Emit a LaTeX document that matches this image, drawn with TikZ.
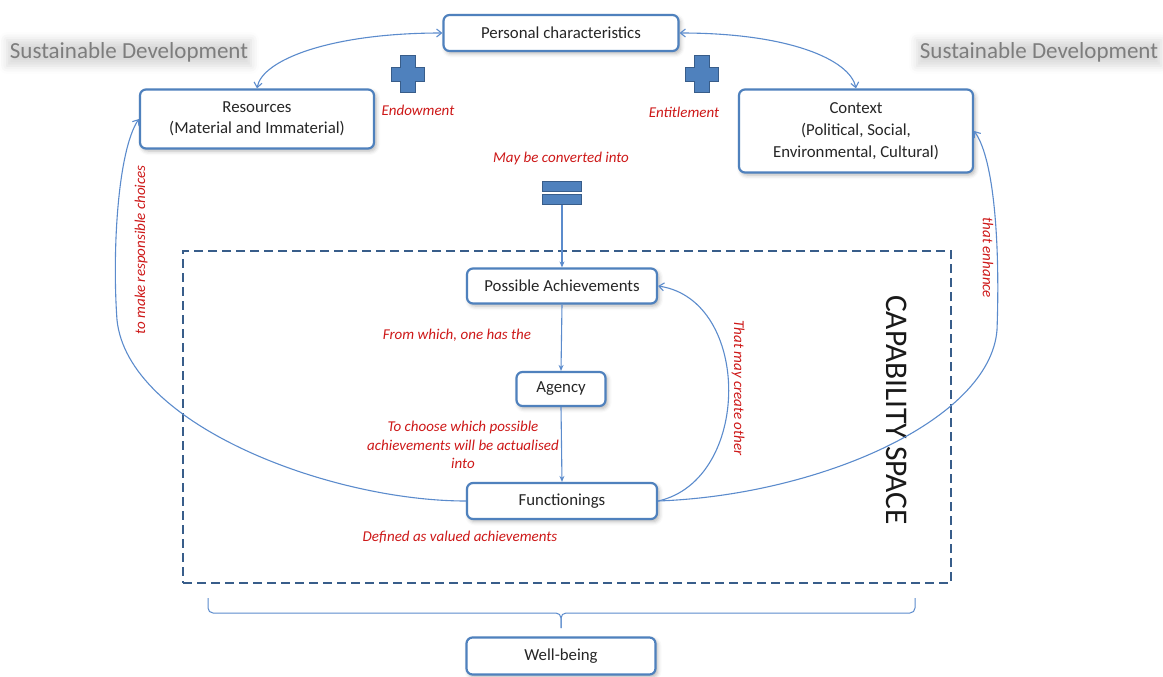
\documentclass[tikz,border=0pt]{standalone}
\usepackage{fontspec}
\setmainfont{Carlito}
\usetikzlibrary{arrows.meta,shadows.blur}
\definecolor{boxblue}{RGB}{79,129,189}
\definecolor{linkblue}{RGB}{91,139,204}
\definecolor{darkblue}{RGB}{56,93,138}
\definecolor{labred}{RGB}{205,24,24}
\definecolor{sdgray}{RGB}{125,125,125}
\tikzset{
  box/.style={draw=boxblue, line width=2.2pt, rounded corners=6pt, fill=white, inner sep=2pt,
    font=\fontsize{16.8}{21}\selectfont, align=center, text=black!85,
    blur shadow={shadow xshift=2pt, shadow yshift=-2.5pt, shadow blur radius=4pt, shadow opacity=30}},
  lab/.style={text=labred, font=\fontsize{15}{18.5}\selectfont\itshape, align=center, inner sep=0pt},
  sd/.style={text=sdgray, font=\fontsize{23}{26}\selectfont, inner sep=3pt,
    blur shadow={shadow xshift=0pt, shadow yshift=-1pt, shadow blur radius=8pt, shadow opacity=15}},
  link/.style={draw=linkblue, line width=1.1pt},
  arr/.style={link, -{Stealth[length=6pt,width=5pt]}},
  barb/.style={link, {Straight Barb[length=5pt,width=8pt]}-{Straight Barb[length=5pt,width=8pt]}},
  barbend/.style={link, -{Straight Barb[length=5pt,width=8pt]}},
  capbox/.style={draw=darkblue, line width=2.2pt, dash pattern=on 9pt off 5pt, inner sep=0pt},
  symb/.style={fill=boxblue, draw=darkblue, line width=1pt}
}
\begin{document}
\begin{tikzpicture}[x=1pt,y=-1pt]
\useasboundingbox (0,0) rectangle (1163,677);

% capability space
\node[capbox, minimum width=768pt, minimum height=332pt] (cap) at (567,417) {};
\node[text=black!90, font=\fontsize{31.5}{31.5}\selectfont, rotate=-90, inner sep=0pt] (captext) at (897,410) {CAPABILITY SPACE};

% boxes
\node[box, minimum width=235pt, minimum height=36pt] (pc) at (561,33) {Personal characteristics};
\node[box, minimum width=234pt, minimum height=59pt] (res) at (257,119) {\raisebox{-2pt}{\begin{tabular}{@{}c@{}}Resources\\(Material and Immaterial)\end{tabular}}};
\node[box, minimum width=234pt, minimum height=83pt, font=\fontsize{16.8}{22}\selectfont] (ctx) at (856,131) {\raisebox{-2pt}{\begin{tabular}{@{}c@{}}Context\\(Political, Social,\\Environmental, Cultural)\end{tabular}}};
\node[box, minimum width=190pt, minimum height=35pt] (pa) at (562,286) {Possible Achievements};
\node[box, minimum width=89pt, minimum height=34pt] (ag) at (561,389) {Agency};
\node[box, minimum width=190pt, minimum height=36pt] (fun) at (562,501) {Functionings};
\node[box, minimum width=189pt, minimum height=37pt] (wb) at (561,656) {Well-being};

% sustainable development
\node[sd] (sdl) at (129,52) {Sustainable Development};
\node[sd] (sdr) at (1039,52) {Sustainable Development};

% plus signs
\foreach \n/\cx in {plusl/407.5, plusr/702} {
  \node[minimum width=33pt, minimum height=37pt, inner sep=0pt] (\n) at (\cx,74.5) {};
  \draw[symb] (\cx-7.5,56) -- (\cx+7.5,56) -- (\cx+7.5,67.5) -- (\cx+16.5,67.5) -- (\cx+16.5,81.5)
     -- (\cx+7.5,81.5) -- (\cx+7.5,93) -- (\cx-7.5,93) -- (\cx-7.5,81.5) -- (\cx-16.5,81.5)
     -- (\cx-16.5,67.5) -- (\cx-7.5,67.5) -- cycle;
}
% equals sign
\node[minimum width=40pt, minimum height=24pt, inner sep=0pt] (eq) at (562,193) {};
\draw[symb] (542.5,181.5) rectangle (581.5,191);
\draw[symb] (542.5,194.5) rectangle (581.5,204.5);

% labels
\node[lab] (lendow) at (418,110) {Endowment};
\node[lab] (lentit) at (684,112) {Entitlement};
\node[lab] (lconv) at (561,159) {May be converted into};
\node[lab] (lfrom) at (457,335) {From which, one has the};
\node[lab] (lchoose) at (463,445) {To choose which possible\\achievements will be actualised\\into};
\node[lab] (ldef) at (460,537) {Defined as valued achievements};
\node[lab, rotate=90] (lresp) at (141,250) {to make responsible choices};
\node[lab, rotate=-90] (lenh) at (988,258) {that enhance};
\node[lab, rotate=-90] (lcreate) at (738,388) {That may create other};

% connectors
\draw[barb] (res.north) .. controls (262,60) and (330,33) .. (pc.west);
\draw[barb] (pc.east) .. controls (790,33) and (850,60) .. (ctx.north);
\draw[arr] (eq.south) -- (pa.north);
\draw[arr] (pa.south) -- (ag.north);
\draw[arr] (ag.south) -- (fun.north);
\draw[barbend] (fun.east) .. controls (752,480) and (752,300) .. (pa.east);
\draw[barbend] (fun.west) .. controls (330,501) and (128,425) .. (117,320)
   .. controls (112,250) and (118,150) .. (res.west);
\draw[barbend] (fun.east) .. controls (820,495) and (990,420) .. (997,330)
   .. controls (1000,250) and (995,160) .. (ctx.east);

% brace to well-being
\coordinate (brl) at (208,598);
\coordinate (brr) at (915,598);
\coordinate (brt) at (561,628);
\draw[link, line width=1pt, rounded corners=5pt] (brl) -- (208,613) -- (561,613) -- (brt);
\draw[link, line width=1pt, rounded corners=5pt] (brr) -- (915,613) -- (561,613) -- (brt);
\end{tikzpicture}
\end{document}
